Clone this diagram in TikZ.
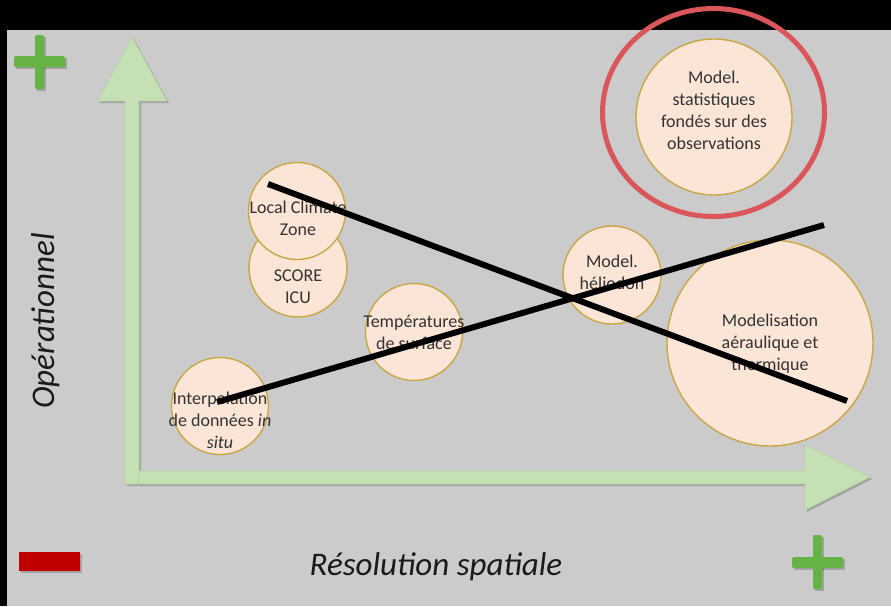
\documentclass[tikz,border=0pt]{standalone}
\usepackage{fontspec}
\setmainfont{Carlito}
\definecolor{panel}{HTML}{CBCBCB}
\definecolor{axisgreen}{HTML}{C5E0B4}
\definecolor{axisedge}{HTML}{B3D59C}
\definecolor{bubblefill}{HTML}{FBE5D6}
\definecolor{bubbleedge}{HTML}{C9A744}
\definecolor{ringred}{HTML}{D9575B}
\definecolor{plusgreen}{HTML}{66B245}
\definecolor{minusred}{HTML}{C00000}
\definecolor{bubbletext}{HTML}{333333}
\definecolor{axistext}{HTML}{1A1A1A}
\tikzset{
  bubble/.style={circle, draw=bubbleedge, line width=1.4pt, fill=bubblefill, inner sep=0pt, outer sep=0pt, minimum size=#1},
  bubblelabel/.style={align=center, text=bubbletext, font=\fontsize{18}{22}\selectfont, inner sep=0pt},
  axislabel/.style={text=axistext, font=\fontsize{33}{38}\selectfont\itshape, inner sep=0pt},
  axisbody/.style={fill=axisgreen, draw=axisedge, line width=0.6pt, line join=miter},
  dropshadow/.style={fill=black, opacity=0.2},
  crossline/.style={line width=6pt, black},
  signbar/.style={fill=plusgreen, rounded corners=1.5pt},
}
\begin{document}
\begin{tikzpicture}[x=1pt,y=-1pt]
  \useasboundingbox (0,0) rectangle (891,606);
  % frame and panel
  \fill[black] (0,0) rectangle (891,606);
  \fill[panel] (7,30) rectangle (891,606);

  % vertical axis (shadow, then arrow)
  \fill[dropshadow] (127,486) -- (127,103) -- (100,103) -- (134,39) -- (169,103) -- (141,103) -- (141,486) -- cycle;
  \path[axisbody] (125,484) -- (125,101) -- (98,101) -- (132,37) -- (167,101) -- (139,101) -- (139,484) -- cycle;
  % horizontal axis
  \fill[dropshadow] (141,473) -- (807,473) -- (807,447) -- (872,479) -- (807,512) -- (807,486) -- (141,486) -- cycle;
  \path[axisbody] (139,471) -- (805,471) -- (805,445) -- (870,477) -- (805,510) -- (805,484) -- (139,484) -- cycle;

  % axis labels
  \node[axislabel, rotate=90] (ylab) at (46,321) {Opérationnel};
  \node[axislabel] (xlab) at (436,567) {Résolution spatiale};

  % plus / minus markers
  \fill[dropshadow] (16,58) rectangle (67,69);
  \fill[dropshadow] (37,37) rectangle (46,91);
  \fill[signbar] (14,56) rectangle (65,67);
  \fill[signbar] (35,35) rectangle (44,89);
  \fill[dropshadow] (21,554) rectangle (82,573);
  \fill[minusred] (19,552) rectangle (80,571);
  \fill[dropshadow] (794,559) rectangle (845,570);
  \fill[dropshadow] (815,537) rectangle (824,591);
  \fill[signbar] (792,557) rectangle (843,568);
  \fill[signbar] (813,535) rectangle (822,589);

  % bubbles
  \node[bubble=156pt] (stat) at (714,117) {};
  \node[bubble=98pt] (score) at (298,268) {};
  \node[bubble=97pt] (lcz) at (297,211) {};
  \node[bubble=97pt] (temp) at (414,332) {};
  \node[bubble=97pt] (interp) at (220,406) {};
  \node[bubble=98pt] (helio) at (612,275) {};
  \node[bubble=206pt] (aero) at (770,343) {};

  % highlight ring
  \draw[ringred, line width=5pt] (713.5,112.5) ellipse [x radius=111, y radius=104];

  % bubble texts
  \node[bubblelabel] (statT) at (714,110) {Model.\\statistiques\\fondés sur des\\observations};
  \node[bubblelabel] (lczT) at (298,218) {Local Climate\\Zone};
  \node[bubblelabel] (scoreT) at (298,287) {SCORE\\ICU};
  \node[bubblelabel] (tempT) at (414,332) {Températures\\de surface};
  \node[bubblelabel] (interpT) at (220,420) {Interpelation\\de données \textit{in}\\\textit{situ}};
  \node[bubblelabel] (helioT) at (612,272) {Model.\\héliodon};
  \node[bubblelabel] (aeroT) at (770,344) {Modelisation\\aéraulique et\\thermique};

  % crossing strokes
  \coordinate (c1a) at (268,184);
  \coordinate (c1b) at (847,401);
  \coordinate (c2a) at (217,402);
  \coordinate (c2b) at (824,225);
  \draw[crossline] (c1a) -- (c1b);
  \draw[crossline] (c2a) -- (c2b);
\end{tikzpicture}
\end{document}
